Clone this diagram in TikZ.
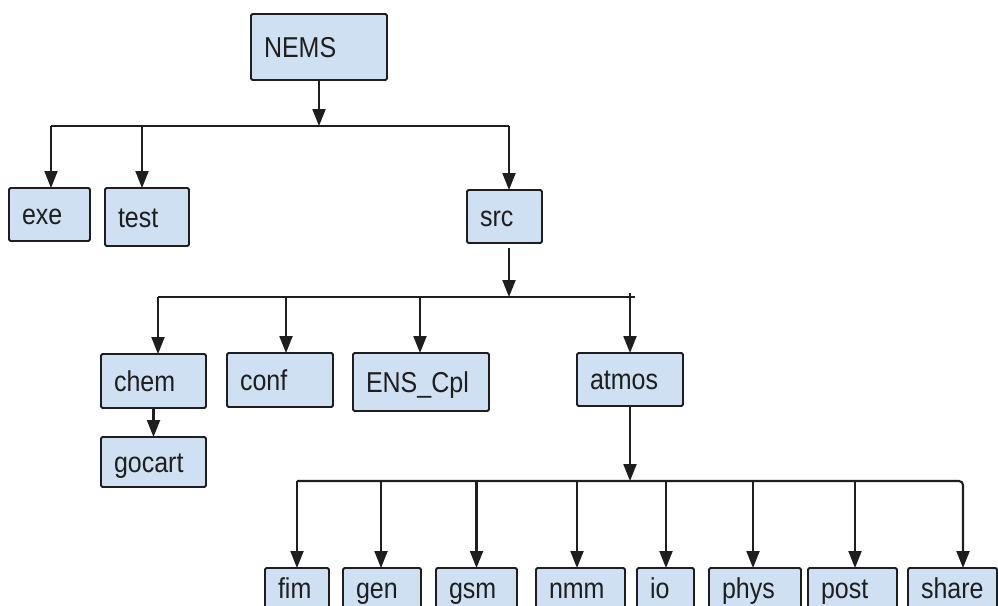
\documentclass[tikz,border=0pt]{standalone}
\usepackage{fontspec}
\setmainfont{Liberation Sans}
\usepackage{graphicx}
\usetikzlibrary{arrows.meta}
\definecolor{boxfill}{HTML}{CFE0F3}
\definecolor{ink}{HTML}{1E1E1E}
\newcommand\lbl[1]{\scalebox{1}[1.15]{#1}}
\newcommand\mkbox[6]{%
  \pgfmathsetmacro\bxw{#4-#2}%
  \pgfmathsetmacro\bxh{#5-#3}%
  \pgfmathsetmacro\bxt{#4-#2-26}%
  \node[dirbox, minimum width=\bxw pt, minimum height=\bxh pt, text width=\bxt pt] (#1) at (#2,#3) {\lbl{#6}};}
\tikzset{
  dirbox/.style={draw=ink, fill=boxfill, line width=1.8pt, rounded corners=1.5pt,
    anchor=north west, inner xsep=13pt, inner ysep=0pt, outer sep=0pt, align=left,
    text height=24pt, text depth=4pt,
    text=ink, font=\fontsize{25}{28}\selectfont},
  arr/.style={line width=2.1pt, draw=ink, -{Triangle[length=17pt,width=13pt]}},
  bus/.style={line width=2.1pt, draw=ink}
}
\begin{document}
\begin{tikzpicture}[x=1pt,y=-1pt]
\useasboundingbox (0,0) rectangle (998,605);
\fill[white] (0,0) rectangle (998,605);
\clip (0,0) rectangle (998,605);

% boxes
\mkbox{nems}{251}{14}{387}{80}{NEMS}
\mkbox{exe}{9}{188}{90}{241}{exe}
\mkbox{test}{105}{188}{189}{246}{test}
\mkbox{src}{467}{190}{542}{243}{src}
\mkbox{chem}{101}{354}{206}{408}{chem}
\mkbox{conf}{227}{353}{333}{407}{conf}
\mkbox{ens}{353}{353}{489}{411}{ENS\_Cpl}
\mkbox{atmos}{577}{353}{683}{406}{atmos}
\mkbox{gocart}{101}{437}{206}{487}{gocart}
\mkbox{fim}{265}{568}{329}{608}{fim}
\mkbox{gen}{343}{568}{421}{608}{gen}
\mkbox{gsm}{436}{568}{517}{608}{gsm}
\mkbox{nmm}{536}{568}{625}{608}{nmm}
\mkbox{io}{637}{568}{694}{608}{io}
\mkbox{phys}{709}{568}{801}{608}{phys}
\mkbox{post}{808}{568}{897}{608}{post}
\mkbox{share}{908}{568}{997}{608}{share}

% attachment points
\coordinate (exeT) at ([xshift=1.5pt]exe.north);
\coordinate (testT) at ([xshift=-5pt]test.north);
\coordinate (srcT) at ([xshift=4.5pt]src.north);
\coordinate (chemT) at ([xshift=4.5pt]chem.north);
\coordinate (confT) at ([xshift=6pt]conf.north);
\coordinate (ensT) at ([xshift=-1pt]ens.north);
\coordinate (atmosT) at (atmos.north);
\coordinate (fimT) at (fim.north);
\coordinate (genT) at ([xshift=-1pt]gen.north);
\coordinate (gsmT) at (gsm.north);
\coordinate (nmmT) at ([xshift=-3.5pt]nmm.north);
\coordinate (ioT) at ([xshift=0.5pt]io.north);
\coordinate (physT) at ([xshift=-2pt]phys.north);
\coordinate (postT) at ([xshift=2.5pt]post.north);
\coordinate (shareT) at ([xshift=10.5pt]share.north);

\coordinate (j1) at (319,126);
\coordinate (j2) at (509,297);
\coordinate (j2e) at (635,297);
\coordinate (j3) at (630,481);

% level 1
\draw[arr] (nems.south) -- (nems.south |- j1);
\draw[bus] (exeT |- j1) -- (srcT |- j1);
\foreach \nm in {exe,test,src} \draw[arr] (\nm T |- j1) -- (\nm T);

% level 2
\draw[arr, shorten <=5pt] (src.south -| j2) -- (j2);
\draw[bus] (chemT |- j2) -- (j2e);
\foreach \nm in {chem,conf,ens} \draw[arr] (\nm T |- j2) -- (\nm T);
\draw[arr] ([yshift=4pt]atmosT |- j2) -- (atmosT);
\draw[arr] (chem.south) -- (gocart.north);

% level 3
\draw[arr] (atmos.south) -- (j3);
\draw[arr, rounded corners=4pt] (fimT |- j3) -- (shareT |- j3) -- (shareT);
\foreach \nm in {fim,gen,gsm,nmm,io,phys,post} \draw[arr] (\nm T |- j3) -- (\nm T);
\end{tikzpicture}
\end{document}
